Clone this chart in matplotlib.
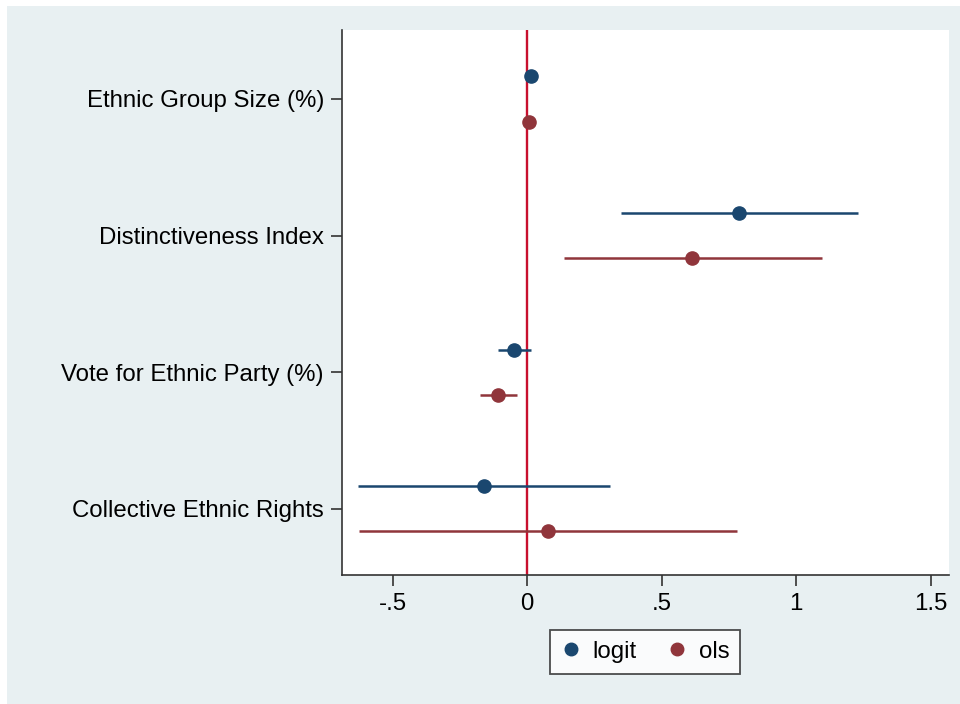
import numpy as np
import matplotlib.pyplot as plt
from matplotlib.lines import Line2D
from matplotlib.patches import Rectangle

plt.rcParams['font.family'] = ['Liberation Sans', 'DejaVu Sans']

categories = ["Ethnic Group Size (%)", "Distinctiveness Index",
              "Vote for Ethnic Party (%)", "Collective Ethnic Rights"]

logit_coef = [0.013, 0.788, -0.049, -0.161]
logit_lo = [0.006, 0.350, -0.109, -0.630]
logit_hi = [0.020, 1.229, 0.014, 0.307]

ols_coef = [0.006, 0.612, -0.109, 0.077]
ols_lo = [0.004, 0.136, -0.176, -0.626]
ols_hi = [0.008, 1.095, -0.038, 0.780]

xticks = [-0.5, 0, 0.5, 1, 1.5]
xticklabels = ["-.5", "0", ".5", "1", "1.5"]

navy = '#1a476f'
maroon = '#90353b'
bg = '#e8f0f2'
fs = 17.3

fig = plt.figure(figsize=(9.6, 7.04), dpi=100, facecolor='white')
fig.patches.append(Rectangle((7/960, 0), 1, 1 - 6/704, transform=fig.transFigure,
                             facecolor=bg, edgecolor='none', zorder=-10))
ax = fig.add_axes([0.35625, 0.1832, 0.9882 - 0.35625, 0.9574 - 0.1832])
ax.set_facecolor('white')

pos = np.arange(1, len(categories) + 1)
off = 0.165

ax.axvline(0, color='#c8102e', lw=1.7, zorder=1)

for coef, lo, hi, col, d in [(logit_coef, logit_lo, logit_hi, navy, -off),
                             (ols_coef, ols_lo, ols_hi, maroon, off)]:
    y = pos + d
    ax.hlines(y, lo, hi, color=col, lw=1.8, zorder=2)
    ax.plot(coef, y, 'o', color=col, ms=9.5, zorder=3)

ax.set_ylim(4.485, 0.495)
ax.set_xlim(-0.689, 1.567)
ax.set_yticks(pos)
ax.set_yticklabels(categories, fontsize=fs)
ax.set_xticks(xticks)
ax.set_xticklabels(xticklabels, fontsize=fs)

for s in ['top', 'right']:
    ax.spines[s].set_visible(False)
for s in ['left', 'bottom']:
    ax.spines[s].set_color('#333333')
    ax.spines[s].set_linewidth(1.2)
ax.tick_params(axis='both', length=8, width=1.2, color='#333333', pad=5)

handles = [Line2D([], [], marker='o', ls='none', color=navy, ms=9),
           Line2D([], [], marker='o', ls='none', color=maroon, ms=9)]
leg = fig.legend(handles, ['logit', 'ols'], loc='center', bbox_to_anchor=(0.672, 0.074),
                 ncol=2, fontsize=fs, frameon=True, fancybox=False,
                 edgecolor='#222222', handletextpad=0.5, columnspacing=1.3,
                 borderpad=0.45, handlelength=0.8)
leg.get_frame().set_linewidth(1.3)

fig.savefig("out.png", dpi=100, facecolor=fig.get_facecolor())
